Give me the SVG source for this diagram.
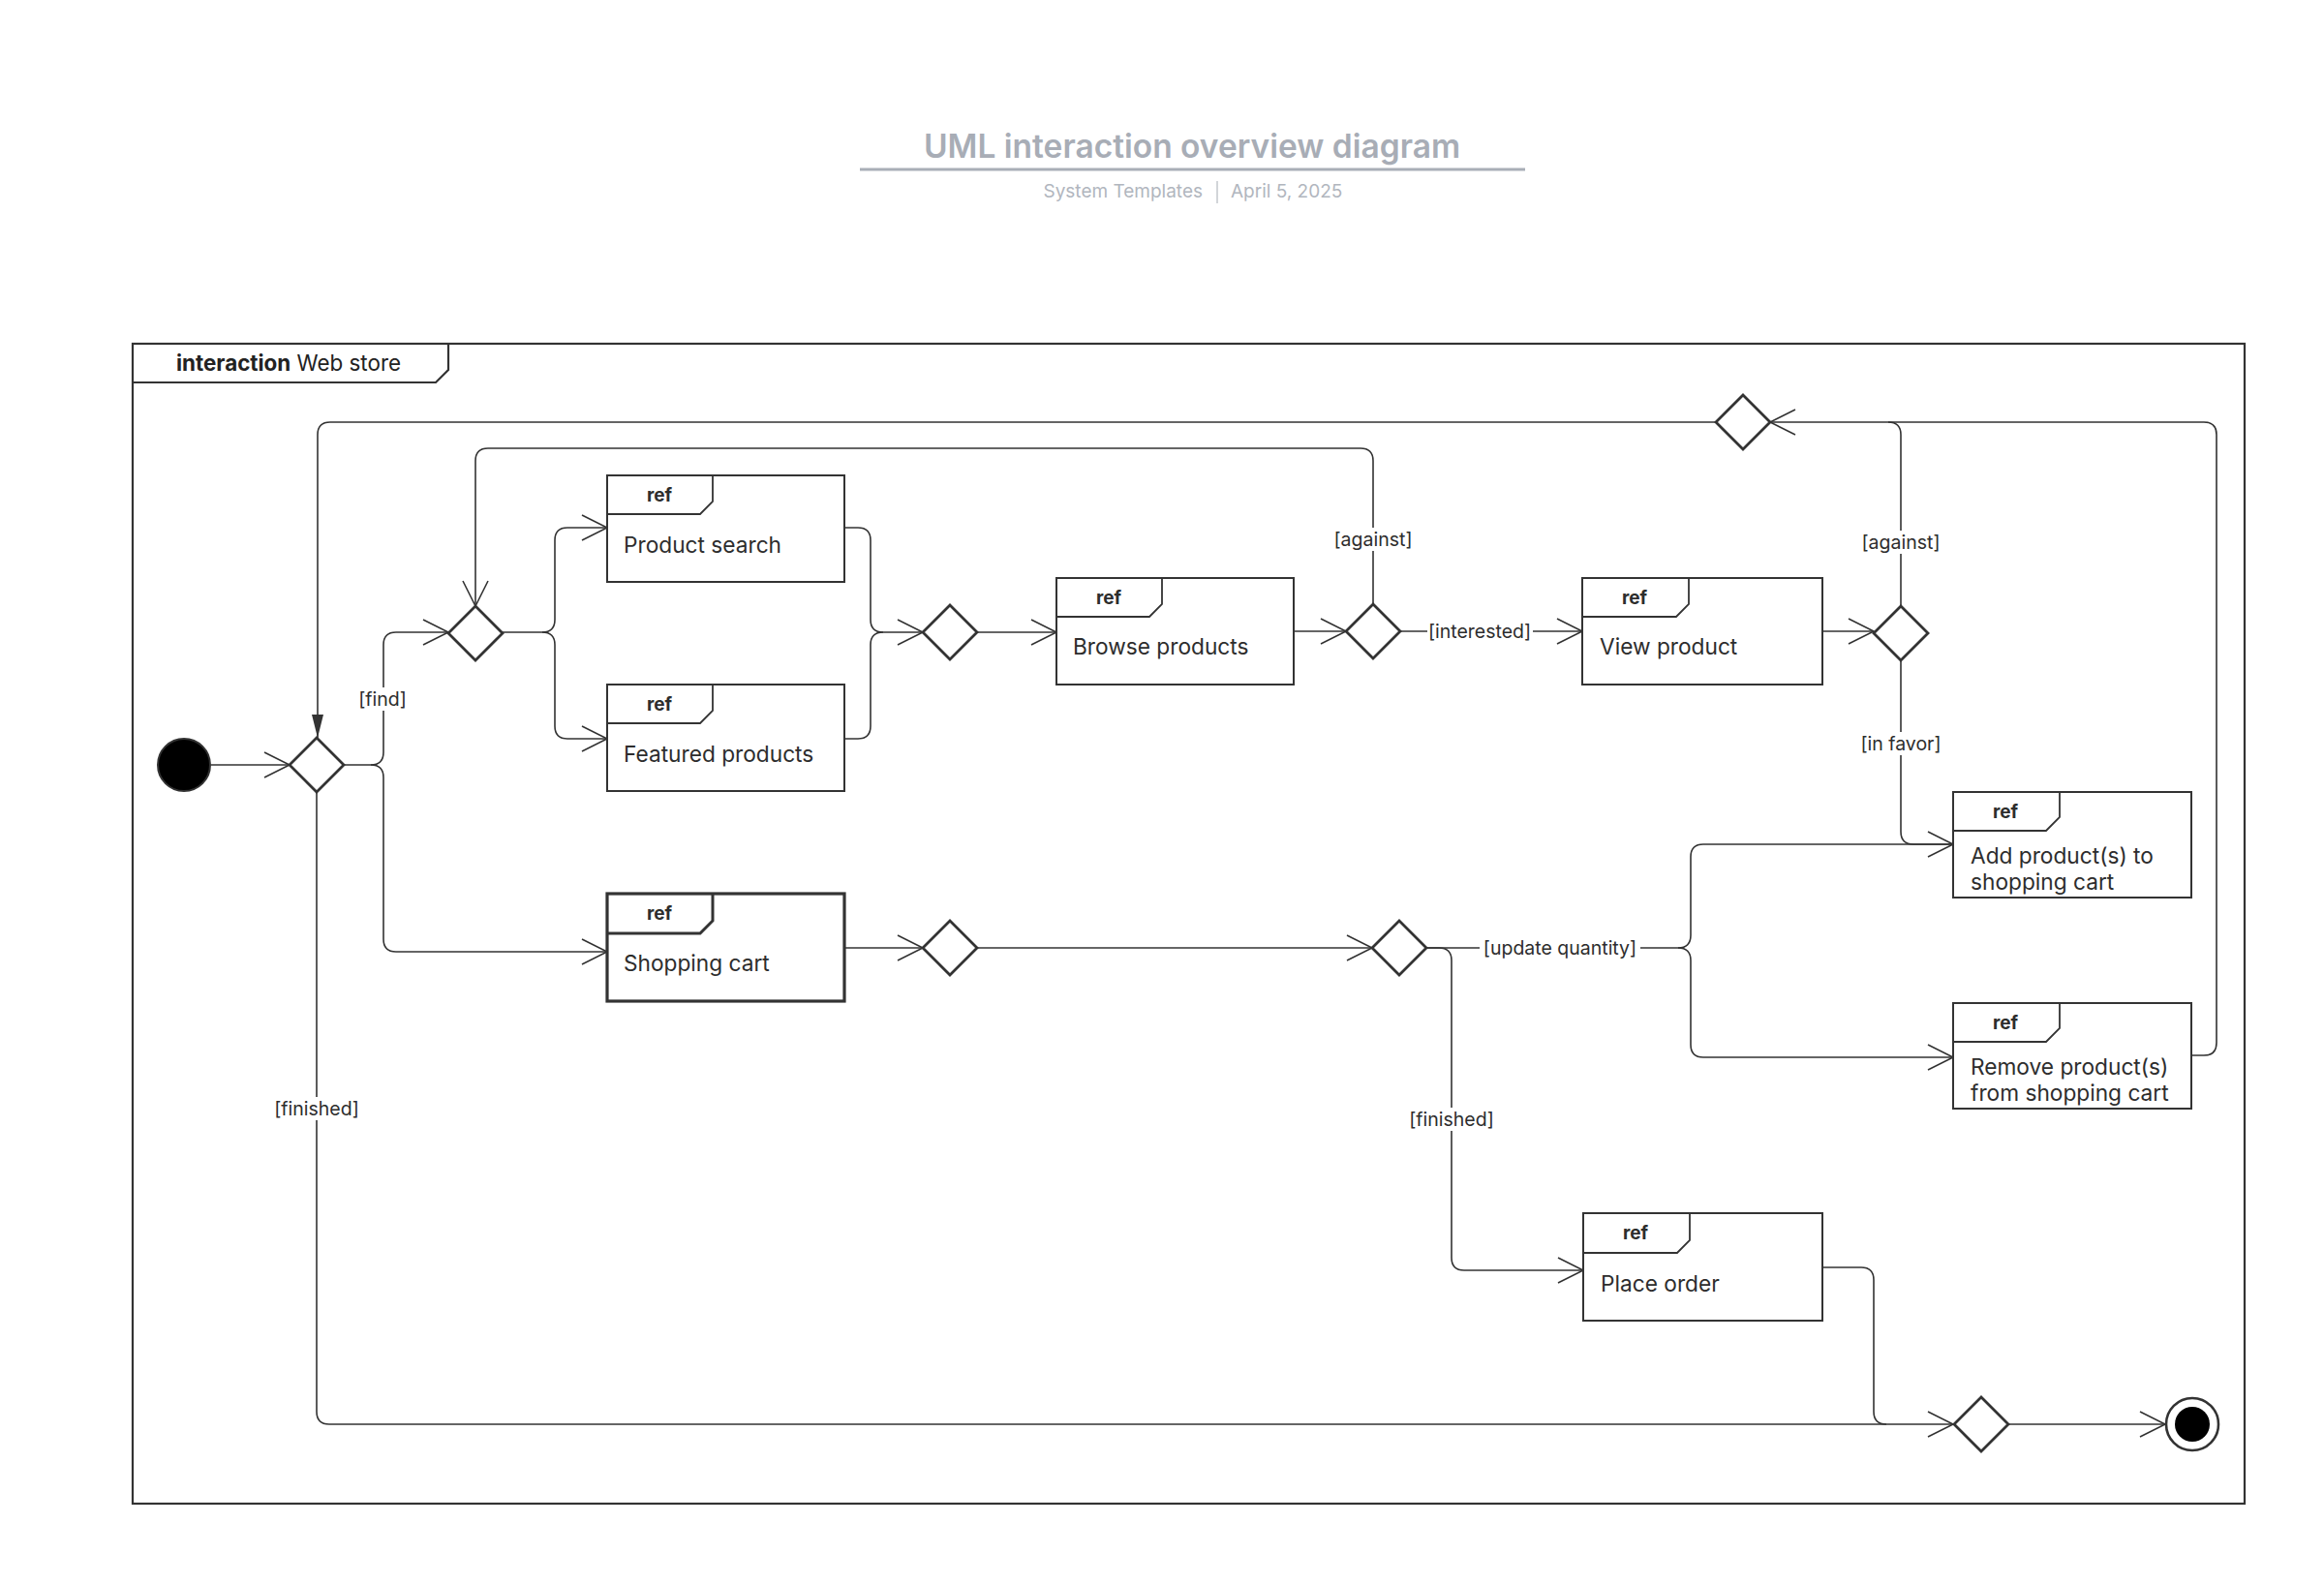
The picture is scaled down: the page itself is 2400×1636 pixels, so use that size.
<svg xmlns="http://www.w3.org/2000/svg" width="2400" height="1636" viewBox="0 0 2400 1636">
<defs>
<style>
.ln{fill:none;stroke:#333;stroke-width:1.6}
.box{fill:#fff;stroke:#333;stroke-width:2}
.boxb{fill:#fff;stroke:#333;stroke-width:3.2}
.tab{fill:none;stroke:#333;stroke-width:1.8}
.dia{fill:#fff;stroke:#333;stroke-width:2.8}
.ref{font-family:Inter,"Liberation Sans",sans-serif;font-weight:700;font-size:19px;fill:#2d2d2d;text-anchor:middle}
.body{font-family:Inter,"Liberation Sans",sans-serif;font-size:22.7px;fill:#2d2d2d}
.lbl{font-family:Inter,"Liberation Sans",sans-serif;font-size:19.5px;fill:#2d2d2d;text-anchor:middle;dominant-baseline:central}
.lbg{fill:#fff}
</style>
<marker id="open" markerUnits="userSpaceOnUse" viewBox="0 0 30 30" refX="28" refY="15" markerWidth="30" markerHeight="30" orient="auto"><path d="M2,2 L28,15 L2,28" fill="none" stroke="#333" stroke-width="1.6"/></marker>
<marker id="filled" markerUnits="userSpaceOnUse" viewBox="0 0 24 14" refX="24" refY="7" markerWidth="24" markerHeight="14" orient="auto"><path d="M0,1 L24,7 L0,13 Z" fill="#333"/></marker>
</defs>
<rect width="2400" height="1636" fill="#fff"/>

<g id="title">
<text x="1231" y="163" font-family="Inter,'Liberation Sans',sans-serif" font-weight="600" font-size="33.5" fill="#a8adb6" text-anchor="middle">UML interaction overview diagram</text>
<line x1="888" y1="175" x2="1575" y2="175" stroke="#a9aeb7" stroke-width="3"/>
<text x="1242" y="204" font-family="Inter,'Liberation Sans',sans-serif" font-size="19" fill="#b1b6be" text-anchor="end">System Templates</text>
<line x1="1257" y1="187" x2="1257" y2="210" stroke="#c3c7cd" stroke-width="1.5"/>
<text x="1271" y="204" font-family="Inter,'Liberation Sans',sans-serif" font-size="19" fill="#b1b6be">April 5, 2025</text>
</g>

<g id="frame">
<rect x="137" y="355" width="2181" height="1198" fill="none" stroke="#333" stroke-width="2.2"/>
<path d="M137,395 H450 L463,382 V355" fill="none" stroke="#333" stroke-width="2.2"/>
<text x="182" y="383" font-family="Inter,'Liberation Sans',sans-serif" font-size="22.4" fill="#222"><tspan font-weight="700">interaction</tspan> Web store</text>
</g>

<g id="connectors">
<path class="ln" d="M218,790 H299" marker-end="url(#open)"/>
<path class="ln" d="M355,790 H383 Q396,790 396,777 V666 Q396,653 409,653 H463" marker-end="url(#open)"/>
<path class="ln" d="M383,790 Q396,790 396,803 V970 Q396,983 409,983 H627" marker-end="url(#open)"/>
<path class="ln" d="M519,653 H560 Q573,653 573,640 V558 Q573,545 586,545 H627" marker-end="url(#open)"/>
<path class="ln" d="M560,653 Q573,653 573,666 V750 Q573,763 586,763 H627" marker-end="url(#open)"/>
<path class="ln" d="M872,545 H886 Q899,545 899,558 V640 Q899,653 912,653 H953" marker-end="url(#open)"/>
<path class="ln" d="M872,763 H886 Q899,763 899,750 V666 Q899,653 912,653"/>
<path class="ln" d="M1009,653 H1091" marker-end="url(#open)"/>
<path class="ln" d="M1336,652 H1390" marker-end="url(#open)"/>
<path class="ln" d="M1446,652 H1634" marker-end="url(#open)"/>
<path class="ln" d="M1418,624 V476 Q1418,463 1405,463 H504 Q491,463 491,476 V626" marker-end="url(#open)"/>
<path class="ln" d="M1882,652 H1935" marker-end="url(#open)"/>
<path class="ln" d="M1963,626 V449 Q1963,436 1950,436 H1828" marker-end="url(#open)"/>
<path class="ln" d="M1963,682 V859 Q1963,872 1976,872 H2017" marker-end="url(#open)"/>
<path class="ln" d="M1772,436 H341 Q328,436 328,449 V762" marker-end="url(#filled)"/>
<path class="ln" d="M872,979 H953" marker-end="url(#open)"/>
<path class="ln" d="M1009,979 H1417" marker-end="url(#open)"/>
<path class="ln" d="M1473,979 H1733 Q1746,979 1746,966 V885 Q1746,872 1759,872 H2017"/>
<path class="ln" d="M1733,979 Q1746,979 1746,992 V1079 Q1746,1092 1759,1092 H2017" marker-end="url(#open)"/>
<path class="ln" d="M1473,979 H1486 Q1499,979 1499,992 V1299 Q1499,1312 1512,1312 H1635" marker-end="url(#open)"/>
<path class="ln" d="M2263,1090 H2276 Q2289,1090 2289,1077 V449 Q2289,436 2276,436 H1950"/>
<path class="ln" d="M1882,1309 H1922 Q1935,1309 1935,1322 V1458 Q1935,1471 1948,1471 H2017" marker-end="url(#open)"/>
<path class="ln" d="M327,818 V1458 Q327,1471 340,1471 H1948"/>
<path class="ln" d="M2074,1471 H2236" marker-end="url(#open)"/>

<rect class="lbg" x="369" y="710" width="52" height="24"/>
<text class="lbl" x="395" y="722">[find]</text>
<rect class="lbg" x="282" y="1133" width="90" height="24"/>
<text class="lbl" x="327" y="1145">[finished]</text>
<rect class="lbg" x="1376" y="545" width="84" height="24"/>
<text class="lbl" x="1418" y="557">[against]</text>
<rect class="lbg" x="1474" y="640" width="109" height="24"/>
<text class="lbl" x="1528" y="652">[interested]</text>
<rect class="lbg" x="1921" y="548" width="84" height="24"/>
<text class="lbl" x="1963" y="560">[against]</text>
<rect class="lbg" x="1921" y="756" width="84" height="24"/>
<text class="lbl" x="1963" y="768">[in favor]</text>
<rect class="lbg" x="1528" y="967" width="166" height="24"/>
<text class="lbl" x="1611" y="979">[update quantity]</text>
<rect class="lbg" x="1454" y="1144" width="90" height="24"/>
<text class="lbl" x="1499" y="1156">[finished]</text>
</g>

<g id="initial"><circle cx="190" cy="790" r="27" fill="#000" stroke="#333" stroke-width="2"/></g>
<g id="final"><circle cx="2264" cy="1471" r="27" fill="#fff" stroke="#333" stroke-width="2.6"/><circle cx="2264" cy="1471" r="18" fill="#000"/></g>

<g id="d1"><polygon class="dia" points="327,762 355,790 327,818 299,790"/></g>
<g id="d2"><polygon class="dia" points="491,626 519,654 491,682 463,654"/></g>
<g id="d3"><polygon class="dia" points="981,625 1009,653 981,681 953,653"/></g>
<g id="d4"><polygon class="dia" points="1418,624 1446,652 1418,680 1390,652"/></g>
<g id="d5"><polygon class="dia" points="1800,408 1828,436 1800,464 1772,436"/></g>
<g id="d6"><polygon class="dia" points="1963,626 1991,654 1963,682 1935,654"/></g>
<g id="d7"><polygon class="dia" points="1445,951 1473,979 1445,1007 1417,979"/></g>
<g id="d8"><polygon class="dia" points="2046,1443 2074,1471 2046,1499 2018,1471"/></g>
<g id="d9"><polygon class="dia" points="981,951 1009,979 981,1007 953,979"/></g>

<g id="product-search">
<rect class="box" x="627" y="491" width="245" height="110"/>
<path class="tab" d="M627,531 H723 L736,518 V491"/>
<text class="ref" x="681" y="518">ref</text>
<text class="body" x="644" y="571">Product search</text>
</g>
<g id="featured-products">
<rect class="box" x="627" y="707" width="245" height="110"/>
<path class="tab" d="M627,747 H723 L736,734 V707"/>
<text class="ref" x="681" y="734">ref</text>
<text class="body" x="644" y="787">Featured products</text>
</g>
<g id="browse-products">
<rect class="box" x="1091" y="597" width="245" height="110"/>
<path class="tab" d="M1091,637 H1187 L1200,624 V597"/>
<text class="ref" x="1145" y="624">ref</text>
<text class="body" x="1108" y="676">Browse products</text>
</g>
<g id="view-product">
<rect class="box" x="1634" y="597" width="248" height="110"/>
<path class="tab" d="M1634,637 H1731 L1744,624 V597"/>
<text class="ref" x="1688" y="624">ref</text>
<text class="body" x="1652" y="676">View product</text>
</g>
<g id="add-products">
<rect class="box" x="2017" y="818" width="246" height="109"/>
<path class="tab" d="M2017,858 H2113 L2127,844 V818"/>
<text class="ref" x="2071" y="845">ref</text>
<text class="body" x="2035" y="892">Add product(s) to</text>
<text class="body" x="2035" y="919">shopping cart</text>
</g>
<g id="remove-products">
<rect class="box" x="2017" y="1036" width="246" height="109"/>
<path class="tab" d="M2017,1076 H2113 L2127,1062 V1036"/>
<text class="ref" x="2071" y="1063">ref</text>
<text class="body" x="2035" y="1110">Remove product(s)</text>
<text class="body" x="2035" y="1137">from shopping cart</text>
</g>
<g id="shopping-cart">
<rect class="boxb" x="627" y="923" width="245" height="111"/>
<path class="tab" style="stroke-width:3" d="M627,964 H723 L736,951 V923"/>
<text class="ref" x="681" y="950">ref</text>
<text class="body" x="644" y="1003">Shopping cart</text>
</g>
<g id="place-order">
<rect class="box" x="1635" y="1253" width="247" height="111"/>
<path class="tab" d="M1635,1294 H1732 L1745,1281 V1253"/>
<text class="ref" x="1689" y="1280">ref</text>
<text class="body" x="1653" y="1334">Place order</text>
</g>
</svg>
